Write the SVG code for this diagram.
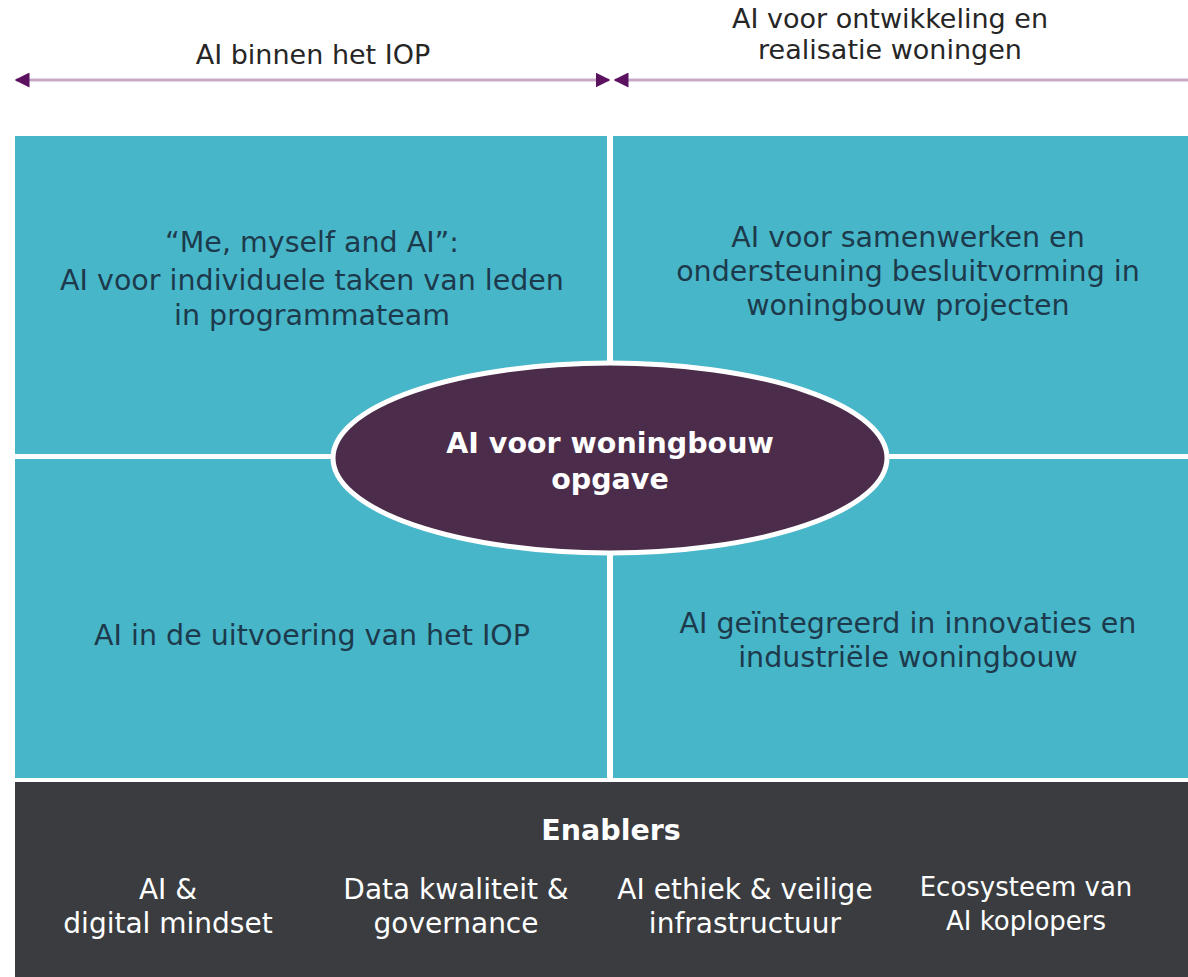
<svg xmlns="http://www.w3.org/2000/svg" width="1188" height="977" viewBox="0 0 1188 977">
<style>
text{font-family:"DejaVu Sans","Verdana",sans-serif;text-anchor:middle}
.hdr{font-size:27px;fill:#262626}
.q{font-size:28.5px;fill:#1d3a4c}
.quad{fill:#47b6c9}
.el{font-size:28.5px;font-weight:bold;fill:#ffffff}
.en{font-size:28px;fill:#ffffff}
.line{stroke:#c8a8c8;stroke-width:3;fill:none}
</style>
<defs>
<marker id="ah" viewBox="0 0 10 10" refX="9" refY="5" markerWidth="5" markerHeight="5" orient="auto-start-reverse" markerUnits="strokeWidth">
<path d="M0,0 L10,5 L0,10 z" fill="#5c1060"/>
</marker>
</defs>
<rect width="1188" height="977" fill="#ffffff"/>
<g id="connectors">
<line class="line" x1="16" y1="80" x2="609" y2="80" marker-start="url(#ah)" marker-end="url(#ah)"/>
<line class="line" x1="615" y1="80" x2="1188" y2="80" marker-start="url(#ah)"/>
</g>
<g id="header-left"><text class="hdr" x="313" y="64">AI binnen het IOP</text></g>
<g id="header-right"><text class="hdr" x="890" y="28">AI voor ontwikkeling en</text><text class="hdr" x="890" y="59">realisatie woningen</text></g>
<g id="q-tl"><rect class="quad" x="15" y="136" width="592" height="318"/>
<text class="q" x="312" y="252">“Me, myself and AI”:</text>
<text class="q" x="312" y="290">AI voor individuele taken van leden</text>
<text class="q" x="312" y="325">in programmateam</text></g>
<g id="q-tr"><rect class="quad" x="613" y="136" width="575" height="318"/>
<text class="q" x="908" y="247">AI voor samenwerken en</text>
<text class="q" x="908" y="281">ondersteuning besluitvorming in</text>
<text class="q" x="908" y="315">woningbouw projecten</text></g>
<g id="q-bl"><rect class="quad" x="15" y="459" width="592" height="319"/>
<text class="q" x="312" y="645">AI in de uitvoering van het IOP</text></g>
<g id="q-br"><rect class="quad" x="613" y="459" width="575" height="319"/>
<text class="q" x="908" y="633">AI geïntegreerd in innovaties en</text>
<text class="q" x="908" y="667">industriële woningbouw</text></g>
<g id="center"><ellipse cx="610" cy="458" rx="277" ry="95" fill="#4b2d4b" stroke="#ffffff" stroke-width="5"/>
<text class="el" x="610" y="453">AI voor woningbouw</text>
<text class="el" x="610" y="489">opgave</text></g>
<g id="enablers"><rect x="15" y="782" width="1173" height="195" fill="#3a3c3f"/>
<text class="el" x="611" y="840">Enablers</text>
<text class="en" x="168" y="899">AI &amp;</text><text class="en" x="168" y="933">digital mindset</text>
<text class="en" x="456" y="899">Data kwaliteit &amp;</text><text class="en" x="456" y="933">governance</text>
<text class="en" x="745" y="899">AI ethiek &amp; veilige</text><text class="en" x="745" y="933">infrastructuur</text>
<text class="en" x="1026" y="896" style="font-size:26px">Ecosysteem van</text><text class="en" x="1026" y="930" style="font-size:26px">AI koplopers</text></g>
</svg>
